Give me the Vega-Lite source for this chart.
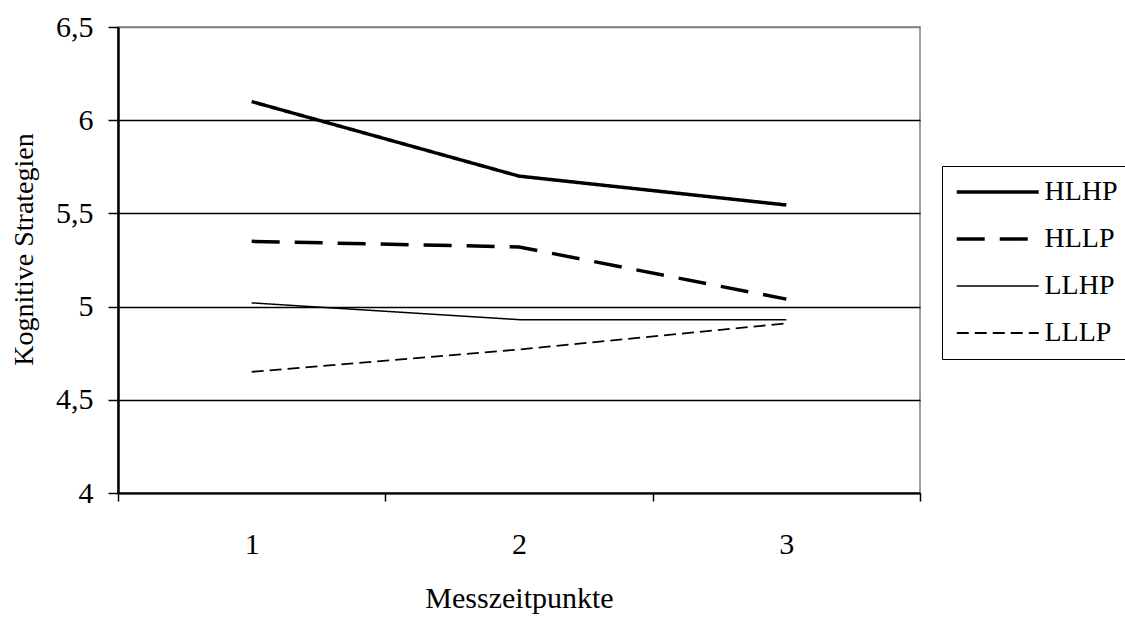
{
  "$schema": "https://vega.github.io/schema/vega-lite/v6.json",
  "width": 802,
  "height": 466,
  "autosize": {"type": "none"},
  "padding": {"left": 118, "top": 27, "right": 205, "bottom": 124},
  "background": "white",
  "config": {
    "font": "Liberation Serif",
    "view": {"stroke": "#808080", "strokeWidth": 1.5},
    "axis": {"labelFont": "Liberation Serif", "titleFont": "Liberation Serif", "labelColor": "black", "titleColor": "black", "titleFontWeight": "normal"},
    "legend": {"labelFont": "Liberation Serif"}
  },
  "data": {
    "values": [
      {"g": "HLHP", "t": "1", "v": 6.10},
      {"g": "HLHP", "t": "2", "v": 5.70},
      {"g": "HLHP", "t": "3", "v": 5.545},
      {"g": "HLLP", "t": "1", "v": 5.35},
      {"g": "HLLP", "t": "2", "v": 5.32},
      {"g": "HLLP", "t": "3", "v": 5.04},
      {"g": "LLHP", "t": "1", "v": 5.02},
      {"g": "LLHP", "t": "2", "v": 4.93},
      {"g": "LLHP", "t": "3", "v": 4.93},
      {"g": "LLLP", "t": "1", "v": 4.65},
      {"g": "LLLP", "t": "2", "v": 4.77},
      {"g": "LLLP", "t": "3", "v": 4.91}
    ]
  },
  "mark": {"type": "line", "color": "black", "strokeCap": "butt"},
  "encoding": {
    "x": {
      "field": "t", "type": "ordinal",
      "scale": {"type": "band", "paddingInner": 0, "paddingOuter": 0},
      "bandPosition": 0.5,
      "axis": {
        "title": "Messzeitpunkte", "titleFontSize": 30, "titleX": 401, "titleY": 114, "titleBaseline": "alphabetic",
        "labelAngle": 0, "labelFontSize": 30, "labelBaseline": "alphabetic", "labelPadding": 52,
        "tickBand": "extent", "tickSize": 8, "tickColor": "black", "tickWidth": 1.5,
        "domainColor": "black", "domainWidth": 2, "grid": false
      }
    },
    "y": {
      "field": "v", "type": "quantitative",
      "scale": {"domain": [4, 6.5], "nice": false, "zero": false},
      "axis": {
        "title": "Kognitive Strategien", "titleFontSize": 28, "titleX": -94, "titleY": 222, "titleAngle": 270, "titleBaseline": "middle",
        "values": [4, 4.5, 5, 5.5, 6, 6.5],
        "labelExpr": "replace(toString(datum.value), '.', ',')",
        "labelFontSize": 30, "labelPadding": 15, "labelBaseline": "middle",
        "tickSize": 10, "tickColor": "black", "tickWidth": 1.5,
        "domainColor": "black", "domainWidth": 2.5,
        "grid": true, "gridWidth": 1.5,
        "gridColor": {"condition": {"test": "datum.value == 6.5", "value": "#808080"}, "value": "black"}
      }
    },
    "strokeDash": {
      "field": "g", "type": "nominal",
      "scale": {"domain": ["HLHP", "HLLP", "LLHP", "LLLP"], "range": [[1, 0], [28, 15], [1, 0], [12, 6]]},
      "legend": {
        "title": null, "orient": "none", "legendX": 824, "legendY": 139,
        "symbolType": "M-1.1,0H6.9", "symbolSize": 420, "symbolStrokeColor": "black",
        "labelFontSize": 28, "labelOffset": 62.5, "labelColor": "black",
        "strokeColor": "black", "padding": 12, "rowPadding": 19
      }
    },
    "strokeWidth": {
      "field": "g", "type": "nominal",
      "scale": {"type": "ordinal", "domain": ["HLHP", "HLLP", "LLHP", "LLLP"], "range": [3.5, 3.5, 1.5, 1.8]}
    }
  }
}
